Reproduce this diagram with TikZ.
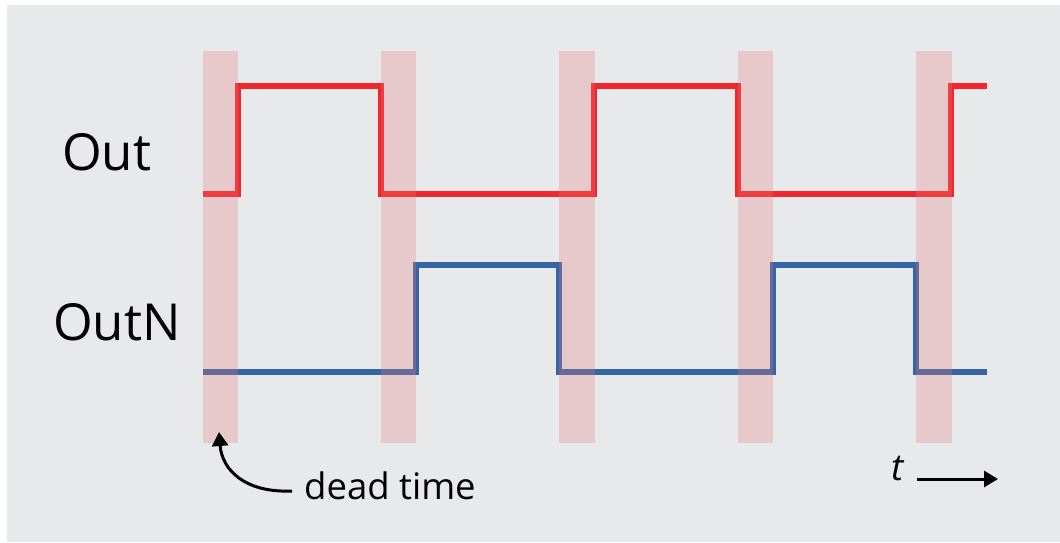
\documentclass[tikz,border=0pt]{standalone}
\usepackage{fontspec}
\setmainfont{Open Sans}
\definecolor{bggray}{RGB}{232, 233, 235}
\definecolor{outred}{RGB}{240, 40, 45}
\definecolor{outblue}{RGB}{55, 100, 165}
\definecolor{deadpink}{RGB}{230, 120, 125}
\usetikzlibrary{arrows.meta}

\begin{document}
\begin{tikzpicture}[
  x=1pt, y=-1pt,
  sig/.style={line width=6pt, line join=miter, draw=#1},
  band/.style={fill=deadpink, fill opacity=0.28},
  lbl/.style={anchor=base west, inner sep=0pt, font=\fontsize{51}{58}\selectfont},
  note/.style={anchor=base west, inner sep=0pt, font=\fontsize{36.5}{42}\selectfont},
  arr/.style={-{Triangle[length=14pt, width=16pt]}, line width=3pt, black},
]
  \useasboundingbox (0,0) rectangle (1060,542);
  \fill[bggray] (7,5) rectangle (1060,542);

  % output and complementary output
  \draw[sig=outred] (203,193.5) -| (238,86) -| (381,193.5) -| (594,86)
    -| (738,193.5) -| (951,86) -- (987,86);
  \draw[sig=outblue] (203,372) -| (416,265) -| (559,372) -| (773,265)
    -| (916,372) -- (987,372);

  % dead time windows
  \foreach \k in {0,...,4}
    \fill[band] ({202.5+178.4*\k},51) rectangle ++(35.5,392);

  \node[lbl] (out) at (62,170) {Out};
  \node[lbl] (outn) at (53,340) {OutN};

  \node[note] (dead) at (304,499) {dead time};
  \coordinate (deadfrom) at (292,491);
  \coordinate (deadto) at (219,432);
  \draw[arr] (deadfrom) .. controls (245,493) and (222,470) .. (deadto);

  \node[note, font=\fontsize{37}{42}\selectfont\itshape] (tlab) at (891,480) {t};
  \coordinate (tfrom) at (917,479);
  \coordinate (tto) at (998,479);
  \draw[arr] (tfrom) -- (tto);
\end{tikzpicture}
\end{document}
